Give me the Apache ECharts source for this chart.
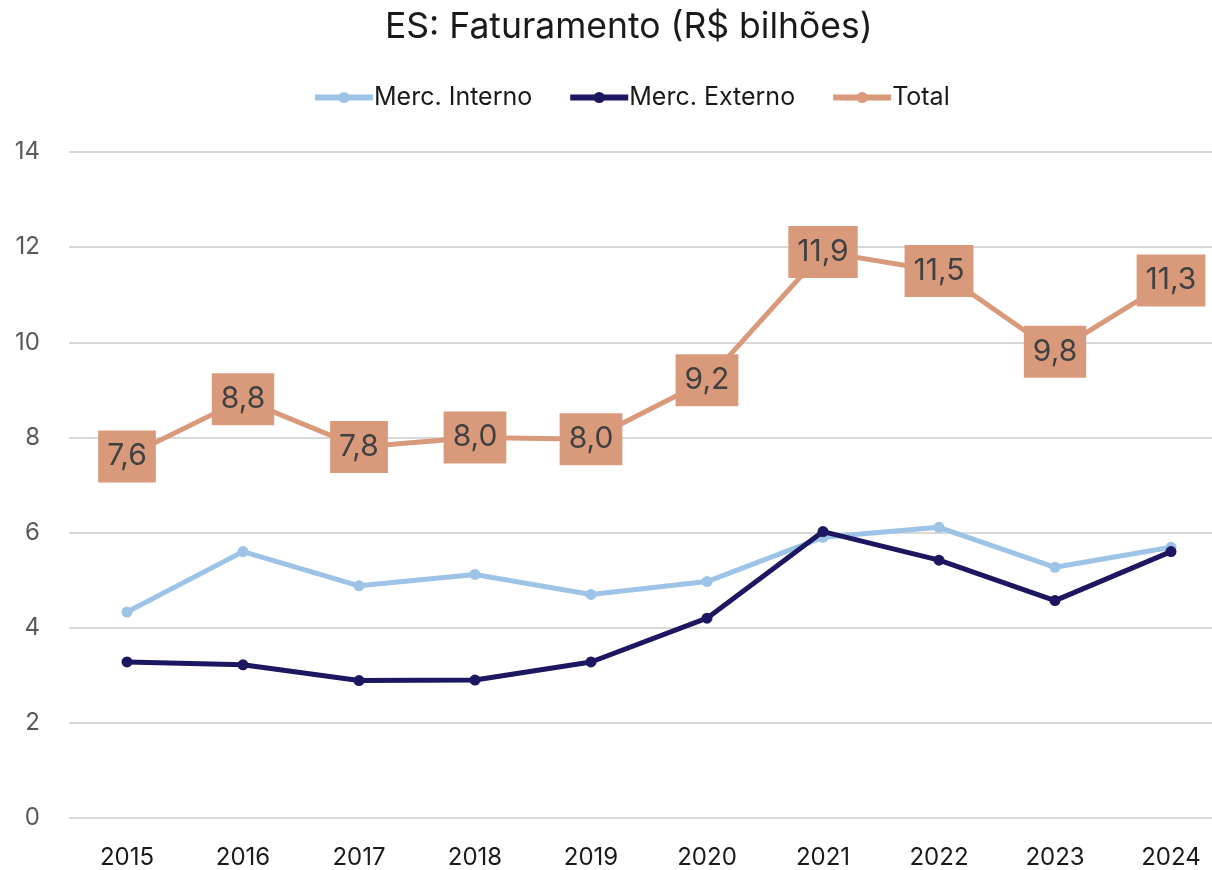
<!DOCTYPE html>
<html>
<head>
<meta charset="utf-8">
<script src="https://cdn.jsdelivr.net/npm/echarts@6/dist/echarts.min.js"></script>
<style>html,body{margin:0;padding:0;background:#fff;overflow:hidden}#c{width:1229px;height:870px}</style>
</head>
<body>
<div id="c"></div>
<script>
const categories = ['2015','2016','2017','2018','2019','2020','2021','2022','2023','2024'];
const mercInterno = [4.33, 5.6, 4.88, 5.12, 4.7, 4.97, 5.9, 6.11, 5.27, 5.69];
const mercExterno = [3.28, 3.22, 2.89, 2.9, 3.28, 4.2, 6.02, 5.42, 4.57, 5.6];
const total = [7.6, 8.8, 7.8, 8.0, 7.96, 9.2, 11.9, 11.5, 9.8, 11.3];
const yTicks = { min: 0, max: 14, interval: 2 };

const FONT = 'Inter, Roboto, "Noto Sans", sans-serif';
const chart = echarts.init(document.getElementById('c'), null, { renderer: 'canvas' });
chart.setOption({
  animation: false,
  backgroundColor: '#fff',
  title: {
    text: 'ES: Faturamento (R$ bilhões)',
    left: 380, top: 4,
    textStyle: { fontFamily: FONT, fontSize: 35.5, fontWeight: 'normal', color: '#1a1a1a' }
  },
  legend: {
    top: 80, left: 307,
    itemWidth: 58, itemHeight: 14, itemGap: 35,
    lineStyle: { width: 6 },
    textStyle: { fontFamily: FONT, fontSize: 25, color: '#1a1a1a', padding: [0,0,0,-4] },
    data: ['Merc. Interno', 'Merc. Externo', 'Total']
  },
  grid: { left: 69, right: 0, top: 152, bottom: 51, containLabel: false },
  xAxis: {
    type: 'category', data: categories, boundaryGap: true,
    axisLine: { show: false }, axisTick: { show: false },
    axisLabel: { fontFamily: FONT, fontSize: 24, color: '#1a1a1a', margin: 28 }
  },
  yAxis: {
    type: 'value', min: yTicks.min, max: yTicks.max, interval: yTicks.interval,
    axisLine: { show: false }, axisTick: { show: false },
    splitLine: { lineStyle: { color: '#d9d9d9', width: 2 } },
    axisLabel: { fontFamily: FONT, fontSize: 24, color: '#595959', margin: 29 }
  },
  series: [
    {
      name: 'Merc. Interno', type: 'line', data: mercInterno,
      symbol: 'circle', symbolSize: 11,
      lineStyle: { color: '#9dc3e6', width: 5 },
      itemStyle: { color: '#9dc3e6' }, z: 2
    },
    {
      name: 'Merc. Externo', type: 'line', data: mercExterno,
      symbol: 'circle', symbolSize: 11,
      lineStyle: { color: '#1c1760', width: 5 },
      itemStyle: { color: '#1c1760' }, z: 3
    },
    {
      name: 'Total', type: 'line', data: total,
      symbol: 'circle', symbolSize: 11,
      lineStyle: { color: '#d99a7c', width: 5 },
      itemStyle: { color: '#d99a7c' }, z: 4,
      label: {
        show: true, position: 'inside',
        formatter: p => p.value.toFixed(1).replace('.', ','),
        fontFamily: FONT, fontSize: 30, color: '#404040',
        backgroundColor: '#d99a7c', padding: [8, 9, 8, 9], lineHeight: 36
      }
    }
  ]
});
</script>
</body>
</html>
